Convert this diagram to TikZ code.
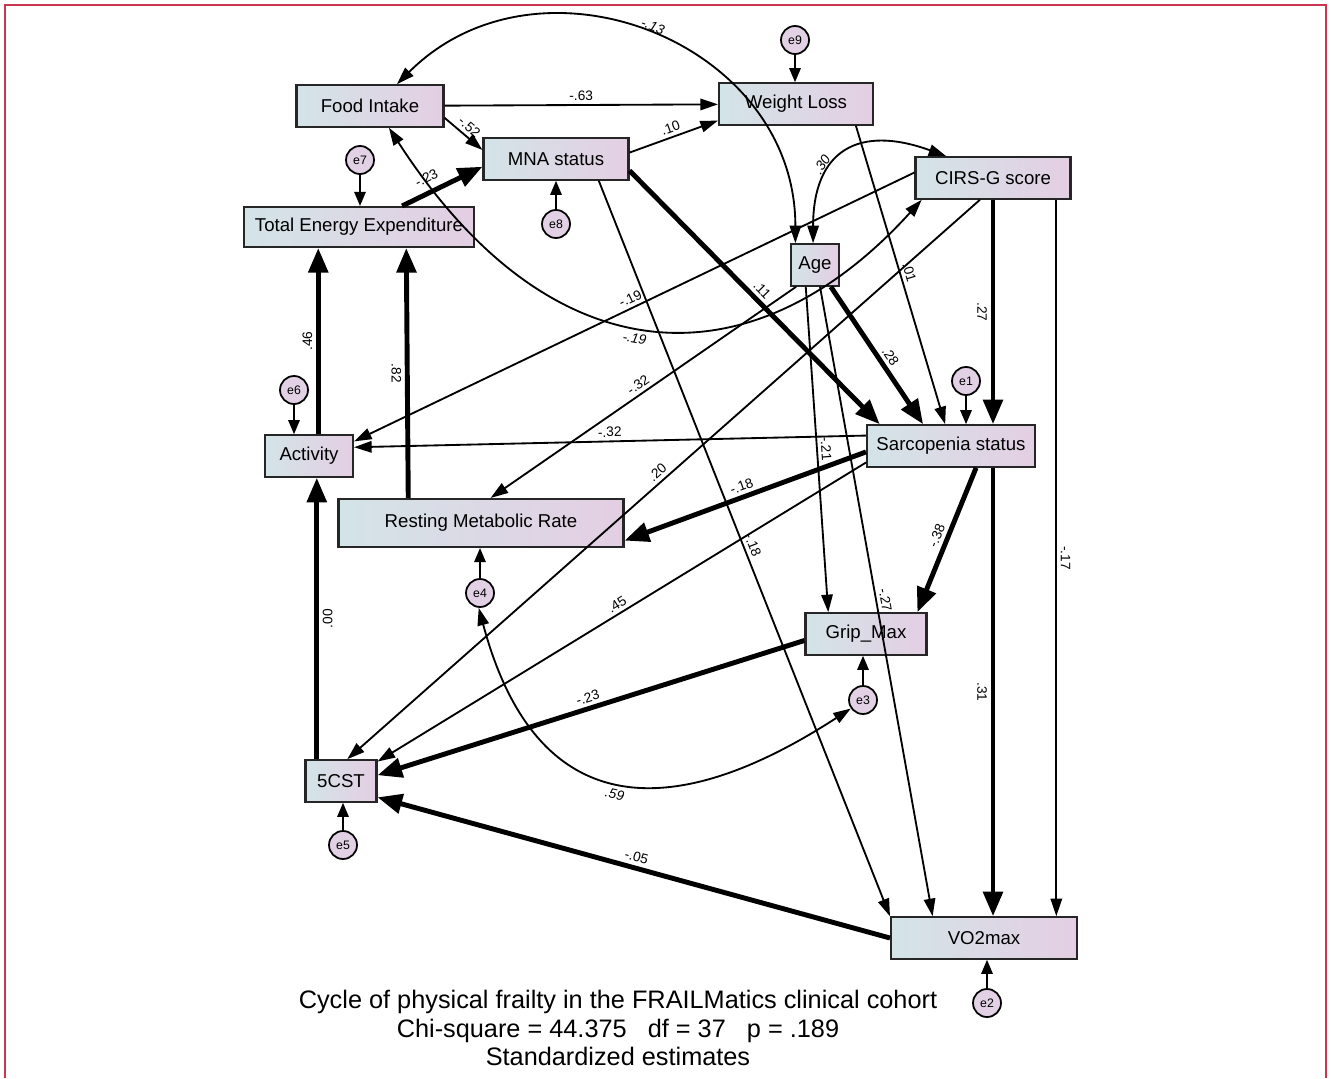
\documentclass[tikz,border=0pt]{standalone}
\usepackage{fontspec}
\setmainfont{Liberation Sans}
\usetikzlibrary{arrows.meta}

\definecolor{boxleft}{HTML}{D3E4E7}
\definecolor{boxright}{HTML}{E4CEE3}
\definecolor{errfill}{HTML}{E2D0E4}
\definecolor{rimred}{HTML}{C9354E}

\tikzset{
  var/.style={draw=black!85, line width=1.2pt, left color=boxleft, right color=boxright,
    minimum height=0.83cm, inner sep=0pt, font=\fontsize{10.6}{12}\selectfont},
  err/.style={draw, circle, line width=1pt, fill=errfill, minimum size=0.56cm,
    inner sep=0pt, font=\fontsize{7}{8}\selectfont},
  reg/.style={line width=1.05pt, -{Triangle[length=10pt,width=6.5pt]}},
  fat/.style={line width=2.8pt, -{Triangle[length=14pt,width=11pt]}},
  cov/.style={line width=1.05pt, {Triangle[length=10pt,width=6.5pt]}-{Triangle[length=10pt,width=6.5pt]}},
  eout/.style={line width=1pt, -{Triangle[length=8pt,width=6.5pt]}},
  est/.style={sloped, inner sep=2pt, font=\fontsize{7.8}{9}\selectfont},
  covest/.style={sloped, inner sep=2pt, font=\fontsize{7.8}{9}\selectfont\itshape},
}

\begin{document}
\begin{tikzpicture}[x=0.02cm, y=-0.02cm]
\useasboundingbox (0,0) rectangle (1331,1078);
\draw[rimred, line width=1.3pt] (5,1078) -- (5,5) -- (1326,5) -- (1326,1078);

\node[var, minimum width=2.94cm] (fi) at (370,106) {Food Intake};
\node[var, minimum width=3.08cm] (wl) at (796,104) {Weight Loss};
\node[var, minimum width=2.9cm] (mna) at (556,159) {MNA status};
\node[var, minimum width=3.1cm] (cirs) at (993,178) {CIRS-G score};
\node[var, minimum width=4.6cm, minimum height=0.8cm] (tee) at (359,227) {Total Energy Expenditure};
\node[var, minimum width=0.96cm] (age) at (815,265) {Age};
\node[var, minimum width=1.76cm] (act) at (309,456) {Activity};
\node[var, minimum width=3.36cm] (sarc) at (951,446) {Sarcopenia status};
\node[var, minimum width=5.7cm, minimum height=0.96cm] (rmr) at (481,523) {Resting Metabolic Rate};
\node[var, minimum width=2.42cm] (grip) at (866,634) {Grip\_Max};
\node[var, minimum width=1.42cm] (cst) at (341,781) {5CST};
\node[var, minimum width=3.72cm] (vo2) at (984,938) {VO2max};

\node[err] (e9) at (795,40) {e9};
\node[err] (e7) at (360,160) {e7};
\node[err] (e8) at (556,224) {e8};
\node[err] (e1) at (966,381) {e1};
\node[err] (e6) at (294,390) {e6};
\node[err] (e4) at (480,593) {e4};
\node[err] (e3) at (863,700) {e3};
\node[err] (e5) at (343,845) {e5};
\node[err] (e2) at (987,1003) {e2};

\draw[eout] (e9) -- (e9 |- wl.north);
\draw[eout] (e7) -- (e7 |- tee.north);
\draw[eout] (e8) -- (e8 |- mna.south);
\draw[eout] (e1) -- (e1 |- sarc.north);
\draw[eout] (e6) -- (e6 |- act.north);
\draw[eout] (e4) -- (e4 |- rmr.south);
\draw[eout] (e3) -- (e3 |- grip.south);
\draw[eout] (e5) -- (e5 |- cst.south);
\draw[eout] (e2) -- (e2 |- vo2.south);

\draw[reg] (fi) -- node[est, above] {-.63} (wl);
\draw[reg] (fi.-9) -- node[est, above] {-.52} (mna.173);
\draw[reg] (mna.5) -- node[est, above] {.10} (wl.192);
\draw[fat] (tee.26) -- node[est, above=2pt, pos=0.38] {-.23} (mna.186);
\draw[cov] (fi.39) to[out=45, in=90, looseness=1.2] node[covest, above] {-.13} (age.132);
\draw[cov] (age.95) to[out=90, in=160, looseness=1.5] node[covest, above, pos=0.35] {.30} (cirs.155);
\draw[cov] (fi.-49) .. controls (552,380) and (753,386) .. node[covest, below=2pt, pos=0.47] {-.19} (cirs.197);
\draw[reg] (cirs.176) -- node[est, above] {-.19} (act.18);
\draw[reg] (sarc.173) -- node[est, above] {-.32} (act.11);
\draw[reg] (age.229) -- node[est, above] {-.32} (rmr.69);
\draw[reg] (cirs.239) -- node[est, above] {.20} (cst.74);
\draw[reg] (mna.-27) -- node[est, above] {-.18} (vo2.167);
\draw[fat] (mna.-9) -- node[est, above] {.11} (sarc.163);
\draw[fat] (age.-54) -- node[est, above, pos=0.55] {.28} (sarc.142);
\draw[reg] (wl.-20) -- node[est, above] {.01} (sarc.105);
\draw[fat] (cirs.south) -- node[est, below] {.27} (cirs.south |- sarc.north);
\draw[reg] (cirs.-19) -- node[est, above] {-.17} (cirs.-19 |- vo2.north);
\draw[fat] (cirs.south |- sarc.south) -- node[est, below] {.31} (cirs.south |- vo2.north);
\draw[fat] (sarc.-41) -- node[est, above] {-.38} (grip.23);
\draw[fat] (sarc.184) -- node[est, above] {-.18} (rmr.-7);
\draw[reg] (sarc.191) -- node[est, above] {.45} (cst.28);
\draw[reg] (age.-113) -- node[est, above] {-.21} (grip.150);
\draw[reg] (age.-77) -- node[est, above] {-.27} (vo2.157);
\draw[fat] (grip.186) -- node[est, above] {-.23} (cst.9);
\draw[fat] (vo2.west) -- node[est, above] {-.05} (cst.-24);
\draw[fat] (cst.138) -- node[est, below] {.00} (cst.138 |- act.south);
\draw[fat] (act.67) -- node[est, above] {.46} (act.67 |- tee.south);
\draw[fat] (rmr.161) -- node[est, below] {.82} (tee.-24);
\draw[cov] (e4.-95) to[out=-75, in=213, looseness=1.45] node[covest, below=2pt, pos=0.5] {.59} (e3.215);

\node[align=center, font=\fontsize{14.4}{16}\selectfont] (title) at (618,1028)
  {Cycle of physical frailty in the FRAILMatics clinical cohort\\
   Chi-square = 44.375\ \ \ df = 37\ \ \ p = .189\\
   Standardized estimates};
\end{tikzpicture}
\end{document}
